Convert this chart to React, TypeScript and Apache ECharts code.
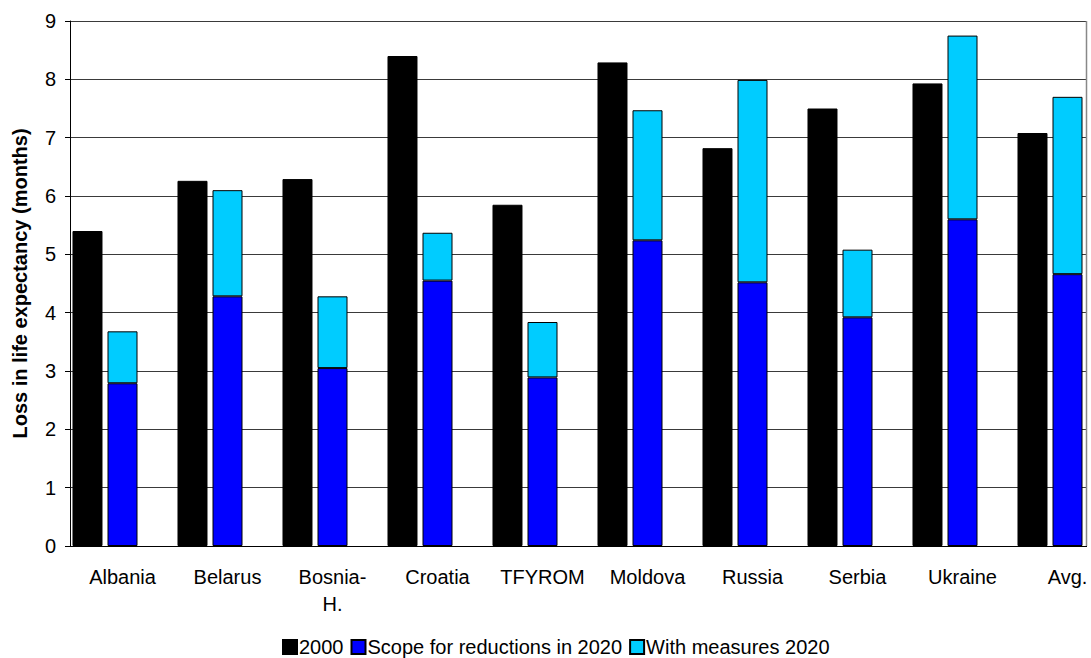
import React, { useEffect, useRef } from "react";
import * as echarts from "echarts";

const categories = ["Albania", "Belarus", "Bosnia-\nH.", "Croatia", "TFYROM", "Moldova", "Russia", "Serbia", "Ukraine", "Avg."];
const values2000 = [5.4, 6.26, 6.29, 8.4, 5.85, 8.29, 6.82, 7.5, 7.93, 7.08];
const scopeReductions2020 = [2.79, 4.28, 3.05, 4.55, 2.89, 5.24, 4.52, 3.92, 5.6, 4.66];
const withMeasures2020 = [0.89, 1.82, 1.23, 0.82, 0.95, 2.23, 3.47, 1.16, 3.15, 3.04];
const yTicks = [0, 1, 2, 3, 4, 5, 6, 7, 8, 9];
const seriesNames = ["2000", "Scope for reductions in 2020", "With measures 2020"];

const FONT = "'Liberation Sans', Arial, sans-serif";

export default function App() {
  const ref = useRef<HTMLDivElement>(null);
  useEffect(() => {
    if (!ref.current) return;
    const chart = echarts.init(ref.current, null, { renderer: "svg" });
    const barCommon = { type: "bar" as const, barWidth: 30, barGap: "16.67%" };
    chart.setOption({
      animation: false,
      backgroundColor: "#ffffff",
      textStyle: { fontFamily: FONT },
      grid: { left: 70, top: 21, bottom: 112, right: 5, containLabel: false },
      legend: {
        data: seriesNames,
        left: 282,
        top: 637,
        padding: 0,
        icon: "rect",
        itemWidth: 14,
        itemHeight: 14,
        itemGap: 7,
        textStyle: { fontSize: 20, lineHeight: 20, color: "#000", fontFamily: FONT, padding: [0, 0, 0, -3] },
      },
      xAxis: {
        type: "category",
        data: categories,
        axisLine: { lineStyle: { color: "#000", width: 1 } },
        axisTick: { show: false },
        axisLabel: { fontSize: 20, color: "#000", margin: 17, lineHeight: 27, fontFamily: FONT, interval: 0 },
        splitLine: { show: false },
      },
      yAxis: {
        type: "value",
        min: yTicks[0],
        max: yTicks[yTicks.length - 1],
        interval: 1,
        name: "Loss in life expectancy (months)",
        nameLocation: "middle",
        nameRotate: 90,
        nameGap: 40,
        nameTextStyle: { fontSize: 20, fontWeight: "bold", color: "#000", fontFamily: FONT },
        axisLine: { show: true, lineStyle: { color: "#000", width: 1 } },
        axisTick: { show: true, length: 5, lineStyle: { color: "#000" } },
        axisLabel: { fontSize: 20, color: "#000", margin: 14, fontFamily: FONT },
        splitLine: { show: true, lineStyle: { color: "#3a3a3a", width: 1 } },
      },
      series: [
        {
          ...barCommon,
          name: seriesNames[0],
          data: values2000,
          itemStyle: { color: "#000000", borderColor: "#000", borderWidth: 1 },
        },
        {
          ...barCommon,
          name: seriesNames[1],
          stack: "s2020",
          data: scopeReductions2020,
          itemStyle: { color: "#0000ff", borderColor: "#000", borderWidth: 1 },
        },
        {
          ...barCommon,
          name: seriesNames[2],
          stack: "s2020",
          data: withMeasures2020,
          itemStyle: { color: "#00ccff", borderColor: "#000", borderWidth: 1 },
        },
        {
          ...barCommon,
          name: "spacer",
          data: categories.map(() => null),
          itemStyle: { color: "transparent" },
        },
      ],
      graphic: [
        {
          type: "rect",
          shape: { x: 1087, y: 0, width: 60, height: 550 },
          style: { fill: "#ffffff" },
          z: 100,
        },
        {
          type: "line",
          shape: { x1: 1086.5, y1: 21, x2: 1086.5, y2: 546 },
          style: { stroke: "#888888", lineWidth: 1.5 },
          z: 101,
        },
      ],
    });
    return () => chart.dispose();
  }, []);
  return (
    <div style={{ position: "absolute", left: 0, top: 0, width: 1091, height: 658, overflow: "hidden" }}>
      <div ref={ref} style={{ position: "absolute", left: 0, top: 0, width: 1125, height: 658 }} />
    </div>
  );
}
